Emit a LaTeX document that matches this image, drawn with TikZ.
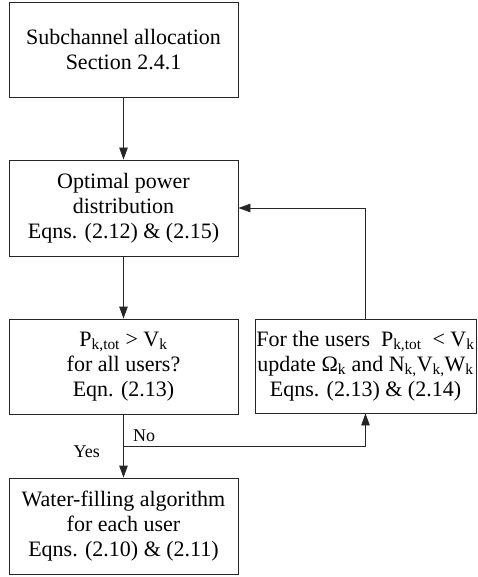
\documentclass[tikz,border=0pt]{standalone}
\usepackage{fontspec}
\setmainfont{Liberation Serif}
\usetikzlibrary{arrows.meta}
\newcommand\lowsub[1]{\textsubscript{#1}}
\begin{document}
\begin{tikzpicture}[x=1pt,y=1pt,
  box/.style={draw=black!85, line width=0.9pt, inner sep=0pt, align=center,
    font=\fontsize{22}{25}\selectfont},
  link/.style={draw=black!85, line width=0.9pt},
  arr/.style={link, -{Triangle[length=12pt,width=8.5pt]}},
  lbl/.style={font=\fontsize{18}{20}\selectfont}]
\useasboundingbox (0,0) rectangle (477,-577);

% left column
\node[box, minimum width=229, minimum height=95] (alloc) at (123.5,-49.5)
  {Subchannel allocation\\Section 2.4.1};
\node[box, minimum width=229, minimum height=96] (power) at (123.5,-208)
  {Optimal power\\distribution\\Eqns. (2.12) \& (2.15)};
\node[box, minimum width=229, minimum height=95] (check) at (123.5,-366.5)
  {P\lowsub{k,tot} > V\lowsub{k}\\for all users?\\Eqn. (2.13)};
\node[box, minimum width=229, minimum height=96] (water) at (123.5,-526)
  {Water-filling algorithm\\for each user\\Eqns. (2.10) \& (2.11)};

% right column
\node[box, minimum width=221, minimum height=94] (upd) at (365.5,-366)
  {For the users\ \ P\lowsub{k,tot}\ \ < V\lowsub{k}\\update Ω\lowsub{k} and N\lowsub{k,}V\lowsub{k,}W\lowsub{k}\\Eqns. (2.13) \& (2.14)};

\coordinate (split) at (123.5,-446);

% connectors
\draw[arr] (alloc) -- (power);
\draw[arr] (power) -- (check);
\draw[arr] (check) -- (water);
\draw[arr] (split) -| (upd.south);
\draw[arr] (upd.north) |- (power.east);

% branch labels
\node[lbl, anchor=south west, inner sep=0pt] (no) at (133,-442) {No};
\node[lbl, anchor=east, inner sep=0pt] (yes) at (100,-452) {Yes};
\end{tikzpicture}
\end{document}
